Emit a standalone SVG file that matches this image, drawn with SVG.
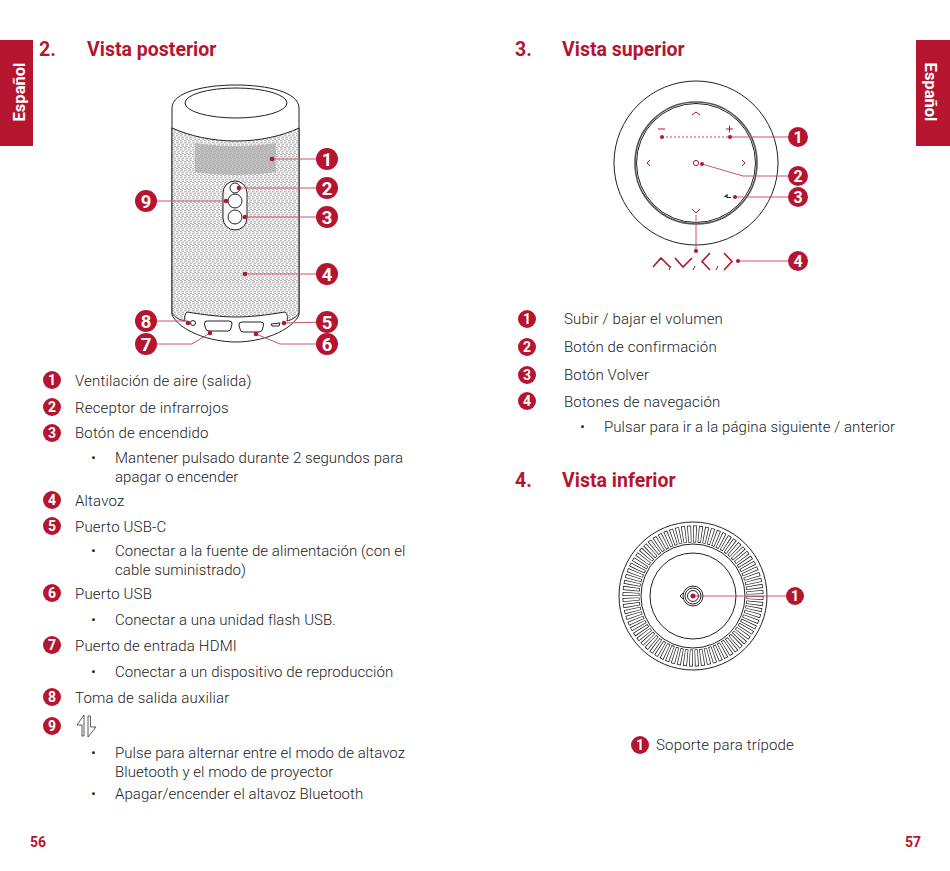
<svg xmlns="http://www.w3.org/2000/svg" width="950" height="871" viewBox="0 0 950 871">
<style>
text{font-family:Roboto,"Liberation Sans",sans-serif}
.t{font-size:15px;font-weight:300;fill:#222;letter-spacing:.17px}
.s{font-size:15px;font-weight:300;fill:#222;letter-spacing:.06px}
.h{font-size:19.5px;font-weight:700;fill:#b5152f}
.tab{font-size:16.500px;font-weight:700;fill:#fff;text-anchor:middle}
.pg{font-size:14px;font-weight:700;fill:#b5152f}
.bd{fill:#b5152f}
.n{font-size:14px;font-weight:700;fill:#fff;text-anchor:middle}
.M{font-size:16px;font-weight:700;fill:#fff;text-anchor:middle}
.N{font-size:18.500px;font-weight:700;fill:#fff;text-anchor:middle}
.l{fill:none;stroke:#c4566a;stroke-width:1}
.d{fill:#b5152f}
.o{fill:none;stroke:#222;stroke-width:1}
.w{fill:#fff;stroke:#222;stroke-width:1}
.a{fill:none;stroke:#b5152f;stroke-width:1}
</style>
<defs>
<pattern id="grill" width="4" height="7" patternUnits="userSpaceOnUse">
<rect width="4" height="7" fill="#fff"/>
<circle cx="1" cy="1.750" r="1.300" fill="none" stroke="#808080" stroke-width=".6"/>
<circle cx="3" cy="5.250" r="1.300" fill="none" stroke="#808080" stroke-width=".6"/>
</pattern>
<pattern id="grillD" width="4" height="7" patternUnits="userSpaceOnUse">
<rect width="4" height="7" fill="#c4c4c4"/>
<circle cx="1" cy="1.750" r="1.300" fill="none" stroke="#999" stroke-width=".6"/>
<circle cx="3" cy="5.250" r="1.300" fill="none" stroke="#999" stroke-width=".6"/>
</pattern>
</defs>

<rect x="0" y="40" width="33" height="106" fill="#b5152f"/>
<rect x="916" y="40" width="34" height="106" fill="#b5152f"/>
<text class="tab" transform="translate(25 92) rotate(-90)">Español</text>
<text class="tab" transform="translate(925 92) rotate(90)">Español</text>
<text class="h" x="39" y="56">2.</text><text class="h" x="87" y="56">Vista posterior</text>
<text class="h" x="515" y="56">3.</text><text class="h" x="562" y="56">Vista superior</text>
<text class="h" x="515" y="487">4.</text><text class="h" x="562" y="487">Vista inferior</text>
<text class="pg" x="30" y="847">56</text>
<text class="pg" x="905" y="847">57</text>

<g id="rear-view">
<path d="M172 128V108C172 92 205 85 236 85S299 92 299 108V315C291 331 262 342 236 342S180 331 172 315Z" class="w"/>
<path d="M172 128C190 136 212 141 236 141S282 136 299 128V313C296 318 291 320 287 321C288 316 287 314 285 312C267 315 250 317 236 317S205 315 187 312C185 314 184 317 185 321C180 320 175 318 172 313Z" fill="url(#grill)" stroke="#222"/>
<path d="M195 143C220 147 250 147 276 143V172C250 176 220 176 195 172Z" fill="url(#grillD)"/>
<ellipse cx="236" cy="103" rx="51" ry="15" class="o"/>
<rect x="223" y="181" width="24" height="49" rx="12" class="w"/>
<circle cx="235" cy="188" r="5" class="w"/>
<circle cx="235" cy="201" r="7" class="w"/>
<circle cx="235" cy="217" r="7" class="w"/>
<circle cx="193" cy="323" r="2.500" class="o"/>
<path d="M207 321H229Q232.500 321 232 324L231 328Q230.500 331 228 331H209Q206 331 205.500 328L204.500 324Q204 321 207 321Z" class="w"/>
<path d="M242 322H261Q264 322 263.500 325L262.500 329Q262 332 259 332H243Q240.500 332 240 329L239 325Q238.500 322 242 322Z" class="w"/>
<path d="M271 324L280 323 279 326 272 326Z" class="w"/>
</g>

<g id="top-view">
<circle cx="696" cy="163" r="82" class="o"/>
<circle cx="696" cy="163" r="61" fill="none" stroke="#555" stroke-width="1.600"/>
<circle cx="696" cy="163" r="59.500" class="o"/>
<path d="M692 115L696 112 700 115M692 209L696 213 700 209M650 160L647 163 650 166M742 160L745 163 742 166M658 129H665M726 129H733M729.500 125.500V132.500" class="a"/>
<circle cx="696" cy="163" r="2.600" class="a"/>
<path d="M731 197.500H727V195L724.500 197" stroke="#222" stroke-width="1.200" fill="none"/>
<path d="M653 267L661 258 670 267M675 258L683 267 692 258M710 253L702 261.500 710 270M724 253L732 261.500 724 270" fill="none" stroke="#b5152f" stroke-width="1.600"/>
<path d="M669 270L671 266M693 270L695 266M716 270L718 266" fill="none" stroke="#333" stroke-width="1"/>
</g>

<g id="bottom-view">
<circle cx="693" cy="596" r="74" class="o"/>
<circle cx="693" cy="596" r="62" fill="none" stroke="#222" stroke-width="17" pathLength="72" stroke-dasharray=".68 .32"/>
<circle cx="693" cy="596" r="62" fill="none" stroke="#fff" stroke-width="15.500" pathLength="72" stroke-dasharray=".42 .58" stroke-dashoffset="-.13"/>
<circle cx="693" cy="596" r="52" fill="#fff" stroke="#222"/>
<circle cx="693" cy="596" r="43" class="o"/>
<path d="M683 593L680 596 683 599" class="o"/>
<circle cx="693" cy="596" r="10" class="w"/>
<circle cx="693" cy="596" r="8" class="o"/>
<circle cx="693" cy="596" r="5.500" class="o"/>
</g>

<g id="connectors">
<path class="l" d="M272 159H327M239 188H327M146 201H226M245 217H327M245 274H327M146 321H188M284 323L327 322M146 344H192L210 333M327 344H280L256 334"/>
<path d="M662 137H730" fill="none" stroke="#b5152f" stroke-width=".8" stroke-dasharray="2 2"/>
<path class="l" d="M730 137H798M702 164L743 176H798M735 197H798M696 215V251M738 261H798M693 596H795"/>
<g class="d">
<circle cx="272" cy="159" r="2.300"/><circle cx="239" cy="188" r="2.300"/><circle cx="226" cy="201" r="2.300"/><circle cx="245" cy="217" r="2.300"/><circle cx="245" cy="274" r="2.300"/><circle cx="188" cy="323" r="2.300"/><circle cx="284" cy="323" r="2.300"/><circle cx="210" cy="333" r="2.300"/><circle cx="256" cy="334" r="2.300"/>
<circle cx="662" cy="137" r="2"/><circle cx="730" cy="137" r="2"/><circle cx="702" cy="164" r="2"/><circle cx="735" cy="197" r="2"/><circle cx="696" cy="251" r="2"/><circle cx="738" cy="261" r="2"/><circle cx="693" cy="596" r="2.500"/>
</g>
</g>

<g id="callouts-rear">
<circle class="bd" cx="327" cy="159" r="11"/><text class="N" x="327" y="165.500">1</text>
<circle class="bd" cx="327" cy="188" r="11"/><text class="N" x="327" y="194.500">2</text>
<circle class="bd" cx="327" cy="217" r="11"/><text class="N" x="327" y="223.500">3</text>
<circle class="bd" cx="327" cy="274" r="11"/><text class="N" x="327" y="280.500">4</text>
<circle class="bd" cx="327" cy="322" r="11"/><text class="N" x="327" y="328.500">5</text>
<circle class="bd" cx="327" cy="344" r="11"/><text class="N" x="327" y="350.500">6</text>
<circle class="bd" cx="146" cy="344" r="11"/><text class="N" x="146" y="350.500">7</text>
<circle class="bd" cx="146" cy="321" r="11"/><text class="N" x="146" y="327.500">8</text>
<circle class="bd" cx="146" cy="201" r="11"/><text class="N" x="146" y="207.500">9</text>
</g>
<g id="callouts-top">
<circle class="bd" cx="798" cy="137" r="10"/><text class="M" x="798" y="142.700">1</text>
<circle class="bd" cx="798" cy="176" r="10"/><text class="M" x="798" y="181.700">2</text>
<circle class="bd" cx="798" cy="197" r="10"/><text class="M" x="798" y="202.700">3</text>
<circle class="bd" cx="798" cy="261" r="10"/><text class="M" x="798" y="266.700">4</text>
</g>
<g id="callout-bottom">
<circle class="bd" cx="795" cy="596" r="9"/><text class="n" x="795" y="601">1</text>
</g>

<g id="list-rear">
<circle class="bd" cx="52" cy="380" r="9"/><text class="n" x="52" y="385">1</text><text class="t" x="75" y="386">Ventilación de aire (salida)</text>
<circle class="bd" cx="52" cy="407" r="9"/><text class="n" x="52" y="412">2</text><text class="t" x="75" y="413">Receptor de infrarrojos</text>
<circle class="bd" cx="52" cy="433" r="9"/><text class="n" x="52" y="438">3</text><text class="t" x="75" y="438">Botón de encendido</text>
<text class="s" x="91" y="463">•</text><text class="s" x="115" y="463">Mantener pulsado durante 2 segundos para</text>
<text class="s" x="115" y="482">apagar o encender</text>
<circle class="bd" cx="52" cy="500" r="9"/><text class="n" x="52" y="505">4</text><text class="t" x="75" y="506">Altavoz</text>
<circle class="bd" cx="52" cy="526" r="9"/><text class="n" x="52" y="531">5</text><text class="t" x="75" y="532">Puerto USB-C</text>
<text class="s" x="91" y="556">•</text><text class="s" x="115" y="556">Conectar a la fuente de alimentación (con el</text>
<text class="s" x="115" y="575">cable suministrado)</text>
<circle class="bd" cx="52" cy="593" r="9"/><text class="n" x="52" y="598">6</text><text class="t" x="75" y="599">Puerto USB</text>
<text class="s" x="91" y="625">•</text><text class="s" x="115" y="625">Conectar a una unidad flash USB.</text>
<circle class="bd" cx="52" cy="645" r="9"/><text class="n" x="52" y="650">7</text><text class="t" x="75" y="651">Puerto de entrada HDMI</text>
<text class="s" x="91" y="677">•</text><text class="s" x="115" y="677">Conectar a un dispositivo de reproducción</text>
<circle class="bd" cx="52" cy="697" r="9"/><text class="n" x="52" y="702">8</text><text class="t" x="75" y="703">Toma de salida auxiliar</text>
<circle class="bd" cx="52" cy="726" r="9"/><text class="n" x="52" y="731">9</text>
<path d="M77 725L84 715V736H82V725ZM96 727L88 737V716H90.500V727Z" fill="#fff" stroke="#333" stroke-width=".8"/>
<text class="s" x="91" y="758">•</text><text class="s" x="115" y="758">Pulse para alternar entre el modo de altavoz</text>
<text class="s" x="115" y="777">Bluetooth y el modo de proyector</text>
<text class="s" x="91" y="799">•</text><text class="s" x="115" y="799">Apagar/encender el altavoz Bluetooth</text>
</g>

<g id="list-top">
<circle class="bd" cx="527" cy="319" r="9"/><text class="n" x="527" y="324">1</text><text class="t" x="564" y="324">Subir / bajar el volumen</text>
<circle class="bd" cx="527" cy="347" r="9"/><text class="n" x="527" y="352">2</text><text class="t" x="564" y="352">Botón de confirmación</text>
<circle class="bd" cx="527" cy="375" r="9"/><text class="n" x="527" y="380">3</text><text class="t" x="564" y="380">Botón Volver</text>
<circle class="bd" cx="527" cy="401" r="9"/><text class="n" x="527" y="406">4</text><text class="t" x="564" y="407">Botones de navegación</text>
<text class="s" x="580" y="432">•</text><text class="s" x="604" y="432">Pulsar para ir a la página siguiente / anterior</text>
</g>
<g id="list-bottom">
<circle class="bd" cx="640" cy="745" r="9"/><text class="n" x="640" y="750">1</text><text class="t" x="656" y="750">Soporte para trípode</text>
</g>
</svg>
